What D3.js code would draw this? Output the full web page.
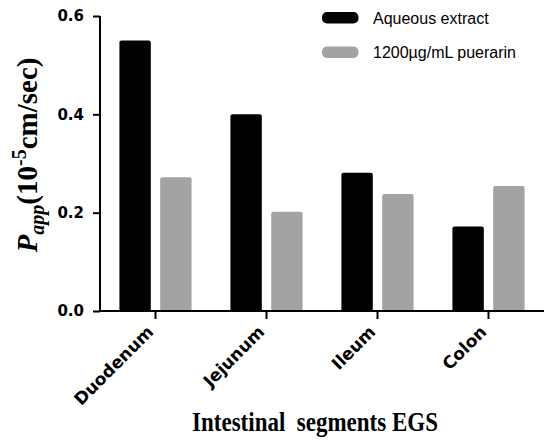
<!DOCTYPE html>
<html>
<head>
<meta charset="utf-8">
<script src="https://cdn.jsdelivr.net/npm/d3@7"></script>
<style>
  html, body { margin: 0; padding: 0; background: #fff; }
  svg { display: block; }
</style>
</head>
<body>
<svg id="chart" width="544" height="441"></svg>
<script>
const categories = ["Duodenum", "Jejunum", "Ileum", "Colon"];
const seriesNames = ["Aqueous extract", "1200\u00b5g/mL puerarin"];
const aqueousValues = [0.55, 0.40, 0.281, 0.172];
const puerarinValues = [0.272, 0.202, 0.238, 0.254];
const yTicks = [0.0, 0.2, 0.4, 0.6];
const colors = ["#000000", "#a3a3a3"];

const svg = d3.select("#chart");
const mLeft = 100, mRight = 544, mTop = 16, mBottom = 311;

const x = d3.scaleBand().domain(categories).range([mLeft, mRight])
  .paddingInner(0.35).paddingOuter(0.175);
const xs = d3.scaleBand().domain([0, 1]).range([0, x.bandwidth()])
  .paddingInner(0.23).paddingOuter(0);
const y = d3.scaleLinear().domain([0, 0.6]).range([mBottom, mTop]);

const data = categories.map((c, i) => ({ cat: c, vals: [aqueousValues[i], puerarinValues[i]] }));

function topRounded(x0, y0, w, h, r) {
  const p = d3.path();
  p.moveTo(x0, y0 + h);
  p.lineTo(x0, y0 + r);
  p.quadraticCurveTo(x0, y0, x0 + r, y0);
  p.lineTo(x0 + w - r, y0);
  p.quadraticCurveTo(x0 + w, y0, x0 + w, y0 + r);
  p.lineTo(x0 + w, y0 + h);
  p.closePath();
  return p.toString();
}

// bars
const g = svg.append("g");
data.forEach(d => {
  d.vals.forEach((v, j) => {
    const bx = x(d.cat) + xs(j);
    const by = y(v);
    g.append("path")
      .attr("d", topRounded(bx, by, xs.bandwidth(), y(0) - by, 2))
      .attr("fill", colors[j]);
  });
});

// y axis
const yAxis = d3.axisLeft(y).tickValues(yTicks).tickFormat(d3.format(".1f"))
  .tickSize(7).tickPadding(9);
const ya = svg.append("g").attr("transform", `translate(${mLeft},0)`).call(yAxis);
ya.select(".domain").attr("stroke", "#000").attr("stroke-width", 2)
  .attr("d", `M0,${mTop}V${mBottom}`);
ya.selectAll(".tick line").attr("stroke", "#000").attr("stroke-width", 2);
ya.selectAll(".tick text").attr("font-family", "DejaVu Sans").attr("font-weight", "bold")
  .attr("font-size", 15).attr("fill", "#000");

// x axis
const xAxis = d3.axisBottom(x).tickSize(8).tickPadding(4);
const xa = svg.append("g").attr("transform", `translate(0,${mBottom})`).call(xAxis);
xa.select(".domain").attr("stroke", "#000").attr("stroke-width", 2)
  .attr("d", `M${mLeft - 1},0H${mRight}`);
xa.selectAll(".tick line").attr("stroke", "#000").attr("stroke-width", 2);
xa.selectAll(".tick text")
  .attr("font-family", "DejaVu Sans").attr("font-weight", "bold").attr("font-size", 17)
  .attr("fill", "#000")
  .attr("text-anchor", "end")
  .attr("dy", "0")
  .attr("transform", "translate(-1,22) rotate(-45)")
  .attr("y", 0).attr("x", 0);

// y label
const yl = svg.append("text")
  .attr("transform", "translate(37,155) rotate(-90)")
  .attr("text-anchor", "middle")
  .attr("font-family", "Liberation Serif").attr("font-weight", "bold")
  .attr("font-size", 29).attr("fill", "#000");
yl.append("tspan").attr("font-style", "italic").text("P");
yl.append("tspan").attr("font-style", "italic").attr("font-size", 20).attr("dy", 7).text("app");
yl.append("tspan").attr("dy", -7).text("(10");
yl.append("tspan").attr("font-size", 20).attr("dy", -11).text("-5");
yl.append("tspan").attr("dy", 11).text("cm/sec)");

// x label
svg.append("text")
  .attr("transform", "translate(315,431) scale(1,1.2)")
  .attr("text-anchor", "middle")
  .attr("font-family", "Liberation Serif").attr("font-weight", "bold")
  .attr("font-size", 23).attr("fill", "#000")
  .attr("xml:space", "preserve")
  .text("Intestinal  segments EGS");

// legend
const legend = svg.append("g");
seriesNames.forEach((name, i) => {
  const ly = 12 + i * 34.5;
  legend.append("rect").attr("x", 322).attr("y", ly).attr("width", 36.5).attr("height", 11.5)
    .attr("rx", 5).attr("fill", colors[i]);
  legend.append("text").attr("x", 373).attr("y", ly + 11.5)
    .attr("font-family", "Liberation Sans").attr("font-size", 16).attr("fill", "#000")
    .text(name);
});
</script>
</body>
</html>
